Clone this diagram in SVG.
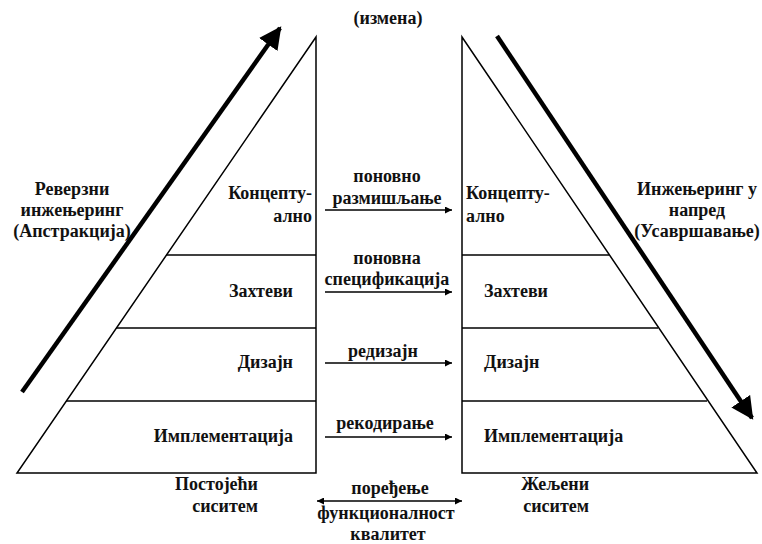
<svg xmlns="http://www.w3.org/2000/svg" width="762" height="544" viewBox="0 0 762 544">
  <style>
    text { font-family: "Liberation Serif", "Times New Roman", serif; font-weight: bold; font-size: 18px; fill: #111; }
    .mid { text-anchor: middle; }
    .end { text-anchor: end; }
    .pyr { fill: none; stroke: #000; stroke-width: 1.5; }
    .link { stroke: #000; stroke-width: 1.5; fill: none; }
    .big { stroke: #000; stroke-width: 4.5; fill: none; }
  </style>
  <defs>
    <marker id="ah" viewBox="0 0 10 10" refX="10" refY="5" markerWidth="10" markerHeight="7" markerUnits="userSpaceOnUse" orient="auto-start-reverse">
      <path d="M0,0 L10,5 L0,10 z" fill="#000"/>
    </marker>
    <marker id="bigah" viewBox="0 0 10 10" refX="9" refY="5" markerWidth="5" markerHeight="5" orient="auto">
      <path d="M0,0 L10,5 L0,10 z" fill="#000"/>
    </marker>
  </defs>
  <rect width="762" height="544" fill="#fff"/>

  <!-- existing system pyramid -->
  <g id="existing">
    <path class="pyr" d="M316,37 L316,473 L17,473 Z"/>
    <line class="pyr" x1="166" y1="255" x2="316" y2="255"/>
    <line class="pyr" x1="116" y1="328" x2="316" y2="328"/>
    <line class="pyr" x1="66" y1="401" x2="316" y2="401"/>
    <text class="end" x="312" y="199">Концепту-</text>
    <text class="end" x="312" y="222">ално</text>
    <text class="end" x="293" y="297">Захтеви</text>
    <text class="end" x="293" y="368">Дизајн</text>
    <text class="end" x="293" y="442">Имплементација</text>
    <text class="end" x="258" y="490">Постојећи</text>
    <text class="end" x="258" y="512">сиситем</text>
  </g>

  <!-- target system pyramid -->
  <g id="target">
    <path class="pyr" d="M462,37 L462,473 L757,473 Z"/>
    <line class="pyr" x1="462" y1="255" x2="609" y2="255"/>
    <line class="pyr" x1="462" y1="328" x2="658" y2="328"/>
    <line class="pyr" x1="462" y1="401" x2="707" y2="401"/>
    <text x="466" y="199">Концепту-</text>
    <text x="466" y="222">ално</text>
    <text x="484" y="297">Захтеви</text>
    <text x="484" y="368">Дизајн</text>
    <text x="484" y="442">Имплементација</text>
    <text class="end" x="589" y="490">Жељени</text>
    <text class="end" x="589" y="512">сиситем</text>
  </g>

  <!-- side labels -->
  <g id="reverse">
    <text class="mid" x="72" y="195">Реверзни</text>
    <text class="mid" x="72" y="216">инжењеринг</text>
    <text class="mid" x="72" y="237">(Апстракција)</text>
  </g>
  <g id="forward">
    <text class="mid" x="697" y="195">Инжењеринг у</text>
    <text class="mid" x="697" y="216">напред</text>
    <text class="mid" x="697" y="237">(Усавршавање)</text>
  </g>
  <g id="change">
    <text class="mid" x="388" y="24">(измена)</text>
  </g>

  <!-- connectors -->
  <g id="connectors">
    <line class="big" x1="22" y1="392" x2="280" y2="28" marker-end="url(#bigah)"/>
    <line class="big" x1="497" y1="36" x2="752" y2="418" marker-end="url(#bigah)"/>
    <line class="link" x1="325" y1="210" x2="452" y2="210" marker-end="url(#ah)"/>
    <line class="link" x1="325" y1="292" x2="452" y2="292" marker-end="url(#ah)"/>
    <line class="link" x1="325" y1="363" x2="452" y2="363" marker-end="url(#ah)"/>
    <line class="link" x1="325" y1="437" x2="452" y2="437" marker-end="url(#ah)"/>
    <line class="link" x1="317" y1="501" x2="462" y2="501" marker-start="url(#ah)" marker-end="url(#ah)"/>
    <text class="mid" x="387" y="182">поновно</text>
    <text class="mid" x="387" y="204">размишљање</text>
    <text class="mid" x="387" y="264">поновна</text>
    <text class="mid" x="387" y="285">спецификација</text>
    <text class="mid" x="383" y="357">редизајн</text>
    <text class="mid" x="385" y="429">рекодирање</text>
    <text class="mid" x="390" y="494">поређење</text>
    <text class="mid" x="386" y="519">функционалност</text>
    <text class="mid" x="388" y="540">квалитет</text>
  </g>
</svg>
